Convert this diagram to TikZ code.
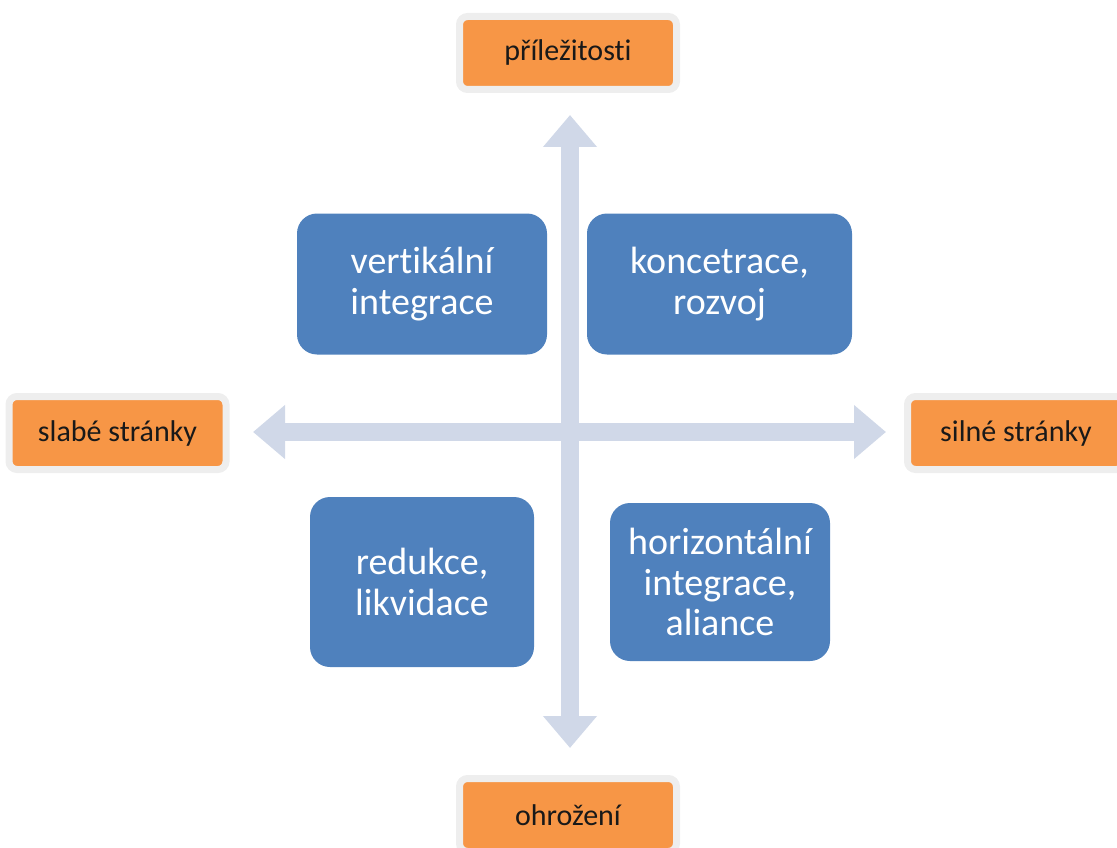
\documentclass[tikz,border=0pt]{standalone}
\usepackage{fontspec}
\setmainfont{Carlito}[Ligatures=NoCommon]
\usetikzlibrary{arrows.meta}
\definecolor{boxblue}{HTML}{4F81BD}
\definecolor{boxorange}{HTML}{F79646}
\definecolor{axiscol}{HTML}{D0D8E8}
\definecolor{rimgray}{HTML}{EEEEEE}
\begin{document}
\begin{tikzpicture}[x=1pt,y=-1pt,
  bluebox/.style={fill=boxblue, rounded corners=20pt, text=white, align=center,
    font=\fontsize{38}{40.5}\selectfont, inner sep=0pt},
  orangebox/.style={fill=boxorange, draw=rimgray, line width=7pt, rounded corners=8pt,
    minimum width=217pt, minimum height=73pt, text=black!90,
    font=\fontsize{30}{34}\selectfont, inner sep=0pt},
  axis/.style={draw=axiscol, line width=18pt,
    {Triangle[length=32pt,width=52pt]}-{Triangle[length=32pt,width=52pt]}}
]
\useasboundingbox (0,0) rectangle (1117,848);
% axes
\coordinate (top) at (570,115);
\coordinate (bot) at (570,748);
\coordinate (lft) at (253,432);
\coordinate (rgt) at (886,432);
\draw[axis] (bot) -- (top);
\draw[axis] (lft) -- (rgt);
% orange labels
\node[orangebox] (opp) at (568,53) {příležitosti};
\node[orangebox] (weak) at (117.5,433) {slabé stránky};
\node[orangebox] (strong) at (1016,433) {silné stránky};
\node[orangebox] (threat) at (568,815) {ohrožení};
% blue quadrants
\node[bluebox, minimum width=250pt, minimum height=141pt] (tl) at (422,284) {vertikální\\integrace};
\node[bluebox, minimum width=265pt, minimum height=141pt] (tr) at (719.5,284) {koncetrace,\\rozvoj};
\node[bluebox, minimum width=224pt, minimum height=170pt] (bl) at (422,582) {redukce,\\likvidace};
\node[bluebox, minimum width=220pt, minimum height=158pt] (br) at (720,582) {horizontální\\integrace,\\aliance};
\end{tikzpicture}
\end{document}
